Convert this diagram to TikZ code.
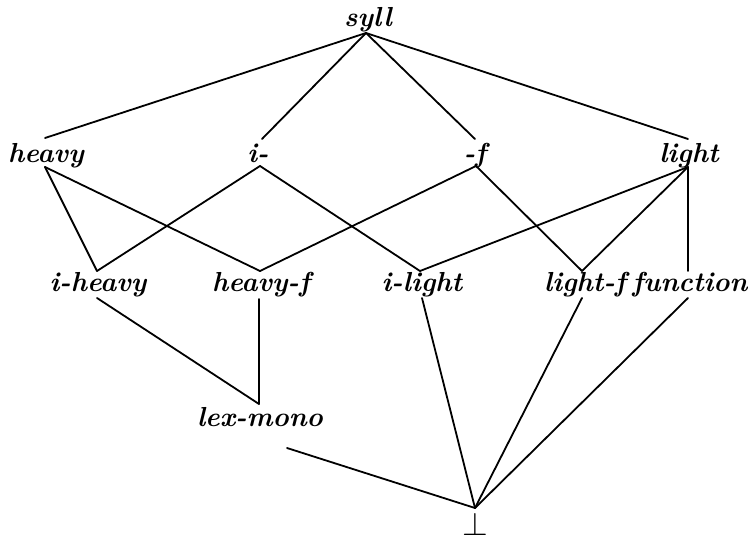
\documentclass[tikz,border=0pt]{standalone}
\usepackage{graphicx}
\begin{document}
\begin{tikzpicture}[x=1pt,y=-1pt,
  lbl/.style={font=\fontsize{27.5}{30}\selectfont\bfseries\itshape, inner sep=0pt, anchor=base},
  edge/.style={line width=1.8pt, line cap=round}]
\useasboundingbox (0,0) rectangle (748,540);
% labels
\node[lbl] (syll) at (368,27) {syll};
\node[lbl] (heavy) at (46,163) {heavy};
\node[lbl] (ipre) at (258,163) {i-};
\node[lbl] (fsuf) at (475,163) {-f};
\node[lbl] (light) at (689,163) {light};
\node[lbl] (iheavy) at (98,292) {i-heavy};
\node[lbl] (heavyf) at (261,292) {heavy-f};
\node[lbl] (ilight) at (422,292) {i-light};
\node[lbl] (lightf) at (585,292) {light-f};
\node[lbl] (function) at (690,292) {function};
\node[lbl] (lexmono) at (260,427) {lex-mono};
\node[inner sep=0pt, anchor=base] (bot) at (475,535) {\scalebox{3.3}{$\bot$}};
% attachment points
\coordinate (syll-b) at (366,33);
\coordinate (heavy-t) at (45,138);   \coordinate (heavy-b) at (45,167);
\coordinate (ipre-t) at (262,139);   \coordinate (ipre-b) at (260,166);
\coordinate (fsuf-t) at (475,139);   \coordinate (fsuf-b) at (476,166);
\coordinate (light-t) at (688,139);  \coordinate (light-b) at (688,167);
\coordinate (iheavy-t) at (97,271);  \coordinate (iheavy-b) at (97,298);
\coordinate (heavyf-t) at (260,271); \coordinate (heavyf-b) at (259,299);
\coordinate (ilight-t) at (420,271); \coordinate (ilight-b) at (422,298);
\coordinate (lightf-t) at (582,271); \coordinate (lightf-b) at (582,298);
\coordinate (function-t) at (688,271); \coordinate (function-b) at (688,298);
\coordinate (lexmono-t) at (259,404); \coordinate (lexmono-b) at (287,448);
\coordinate (bot-t) at (475,508);
% edges
\draw[edge] (syll-b) -- (heavy-t);
\draw[edge] (syll-b) -- (ipre-t);
\draw[edge] (syll-b) -- (fsuf-t);
\draw[edge] (syll-b) -- (light-t);
\draw[edge] (heavy-b) -- (iheavy-t);
\draw[edge] (heavy-b) -- (heavyf-t);
\draw[edge] (ipre-b) -- (iheavy-t);
\draw[edge] (ipre-b) -- (ilight-t);
\draw[edge] (fsuf-b) -- (heavyf-t);
\draw[edge] (fsuf-b) -- (lightf-t);
\draw[edge] (light-b) -- (ilight-t);
\draw[edge] (light-b) -- (lightf-t);
\draw[edge] (light-b) -- (function-t);
\draw[edge] (iheavy-b) -- (lexmono-t);
\draw[edge] (heavyf-b) -- (lexmono-t);
\draw[edge] (lexmono-b) -- (bot-t);
\draw[edge] (ilight-b) -- (bot-t);
\draw[edge] (lightf-b) -- (bot-t);
\draw[edge] (function-b) -- (bot-t);
\end{tikzpicture}
\end{document}
